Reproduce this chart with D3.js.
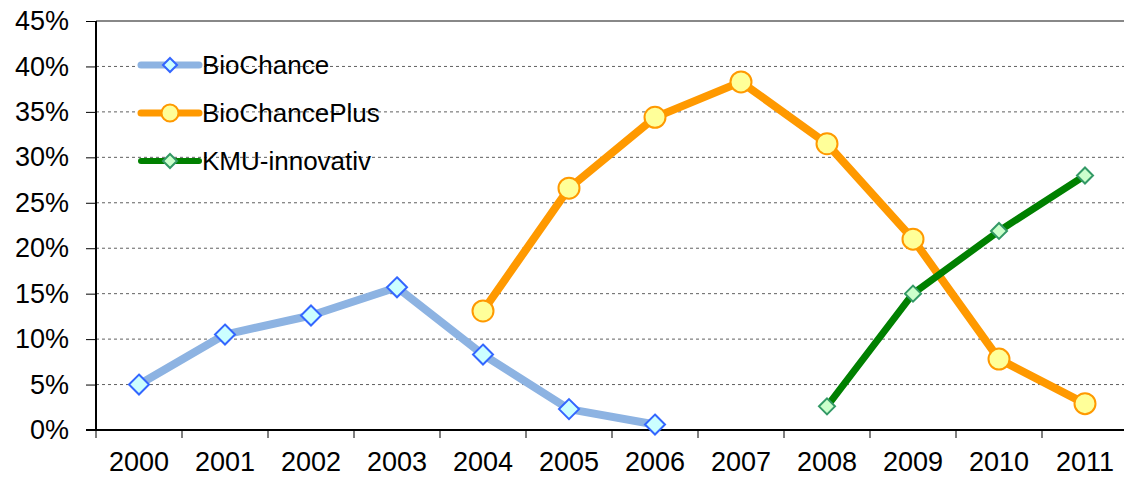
<!DOCTYPE html>
<html>
<head>
<meta charset="utf-8">
<script src="https://cdn.jsdelivr.net/npm/d3@7"></script>
<style>
  body { margin: 0; background: #fff; }
  text { font-family: "Liberation Sans", Arial, sans-serif; fill: #000; }
</style>
</head>
<body>
<svg id="chart"></svg>
<script>
var years = ["2000","2001","2002","2003","2004","2005","2006","2007","2008","2009","2010","2011"];
var yTicks = [0, 5, 10, 15, 20, 25, 30, 35, 40, 45];

// values in percent, null = no value
var bioChance     = [5.0, 10.5, 12.6, 15.7, 8.3, 2.3, 0.6, null, null, null, null, null];
var bioChancePlus = [null, null, null, null, 13.1, 26.6, 34.4, 38.3, 31.5, 21.0, 7.8, 2.9];
var kmuInnovativ  = [null, null, null, null, null, null, null, null, 2.6, 15.0, 21.9, 28.0];

var seriesNames = ["BioChance", "BioChancePlus", "KMU-innovativ"];

var W = 1124, H = 478;
var margin = {top: 21, right: -4, bottom: 48, left: 96},
    width = W - margin.left - margin.right,
    height = H - margin.top - margin.bottom;

var svg = d3.select("#chart")
    .attr("width", W)
    .attr("height", H)
  .append("g")
    .attr("transform", "translate(" + margin.left + "," + margin.top + ")");

var x = d3.scaleBand().domain(years).range([0, width]);
var y = d3.scaleLinear().domain([0, 45]).range([height, 0]);

// gridlines
svg.append("g")
  .selectAll("line")
  .data(yTicks.filter(function(d) { return d > 0 && d < 45; }))
  .enter().append("line")
    .attr("x1", 0).attr("x2", width)
    .attr("y1", function(d) { return y(d); })
    .attr("y2", function(d) { return y(d); })
    .attr("stroke", "#606060")
    .attr("stroke-width", 1)
    .attr("stroke-dasharray", "3,3");

// top border of plot area
svg.append("line")
  .attr("x1", 0).attr("x2", width)
  .attr("y1", y(45)).attr("y2", y(45))
  .attr("stroke", "#888")
  .attr("stroke-width", 2);

// y axis
var yAxis = svg.append("g")
  .call(d3.axisLeft(y).tickValues(yTicks).tickSize(10).tickFormat(function(d) { return d + "%"; }));
yAxis.select(".domain").attr("stroke", "#000").attr("stroke-width", 2).attr("d", "M0," + (height + 1) + "V" + y(45));
yAxis.selectAll(".tick line").attr("stroke", "#000").attr("stroke-width", 1);
yAxis.selectAll(".tick text")
  .attr("x", -27)
  .style("font-size", "27px")
  .style("font-family", "Liberation Sans, Arial, sans-serif")
  .attr("fill", "#000");

// x axis
var xAxis = svg.append("g")
  .attr("transform", "translate(0," + height + ")")
  .call(d3.axisBottom(x).tickSize(0).tickFormat(function(d) { return d; }));
xAxis.select(".domain").attr("stroke", "#000").attr("stroke-width", 2).attr("d", "M-10,0H" + width);
xAxis.selectAll(".tick text")
  .attr("y", 22)
  .style("font-size", "27px")
  .style("font-family", "Liberation Sans, Arial, sans-serif")
  .attr("fill", "#000");

// x tick marks between categories
svg.append("g")
  .selectAll("line")
  .data(years)
  .enter().append("line")
    .attr("x1", function(d) { return x(d); })
    .attr("x2", function(d) { return x(d); })
    .attr("y1", height)
    .attr("y2", height + 8)
    .attr("stroke", "#000")
    .attr("stroke-width", 1);

var series = [
  {name: seriesNames[0], values: bioChance, color: "#8DB3E2", width: 8, marker: "diamond", size: 10, fill: "#CCFFFF", stroke: "#3366FF"},
  {name: seriesNames[1], values: bioChancePlus, color: "#FF9900", width: 8, marker: "circle", size: 10.5, fill: "#FFFF99", stroke: "#FF9900"},
  {name: seriesNames[2], values: kmuInnovativ, color: "#008000", width: 7, marker: "diamond", size: 8, fill: "#CCFFCC", stroke: "#339966"}
];

var line = d3.line()
  .defined(function(d) { return d.v != null; })
  .x(function(d) { return x(d.year) + x.bandwidth() / 2; })
  .y(function(d) { return y(d.v); });

function drawMarker(g, s, cx, cy, size) {
  if (s.marker === "circle") {
    g.append("circle")
      .attr("cx", cx).attr("cy", cy).attr("r", size)
      .attr("fill", s.fill).attr("stroke", s.stroke).attr("stroke-width", 2);
  } else {
    g.append("path")
      .attr("d", "M" + cx + "," + (cy - size) + "L" + (cx + size) + "," + cy + "L" + cx + "," + (cy + size) + "L" + (cx - size) + "," + cy + "Z")
      .attr("fill", s.fill).attr("stroke", s.stroke).attr("stroke-width", 2);
  }
}

series.forEach(function(s) {
  var pts = years.map(function(yr, i) { return {year: yr, v: s.values[i]}; });
  svg.append("path")
    .datum(pts)
    .attr("d", line)
    .attr("fill", "none")
    .attr("stroke", s.color)
    .attr("stroke-width", s.width)
    .attr("stroke-linejoin", "round")
    .attr("stroke-linecap", "butt");
  var mg = svg.append("g");
  pts.filter(function(d) { return d.v != null; }).forEach(function(d) {
    drawMarker(mg, s, x(d.year) + x.bandwidth() / 2, y(d.v), s.size);
  });
});

// legend
var legend = svg.append("g").attr("transform", "translate(45,44)");
series.forEach(function(s, i) {
  var g = legend.append("g").attr("transform", "translate(0," + (i * 48) + ")");
  g.append("line")
    .attr("x1", 0).attr("x2", 58).attr("y1", 0).attr("y2", 0)
    .attr("stroke", s.color).attr("stroke-width", s.width - 1)
    .attr("stroke-linecap", "round");
  drawMarker(g, s, 29, 0, s.marker === "circle" ? 8.5 : 7);
  g.append("text")
    .attr("x", 61).attr("y", 0).attr("dy", "0.36em")
    .style("font-size", "26px")
    .text(s.name);
});
</script>
</body>
</html>
